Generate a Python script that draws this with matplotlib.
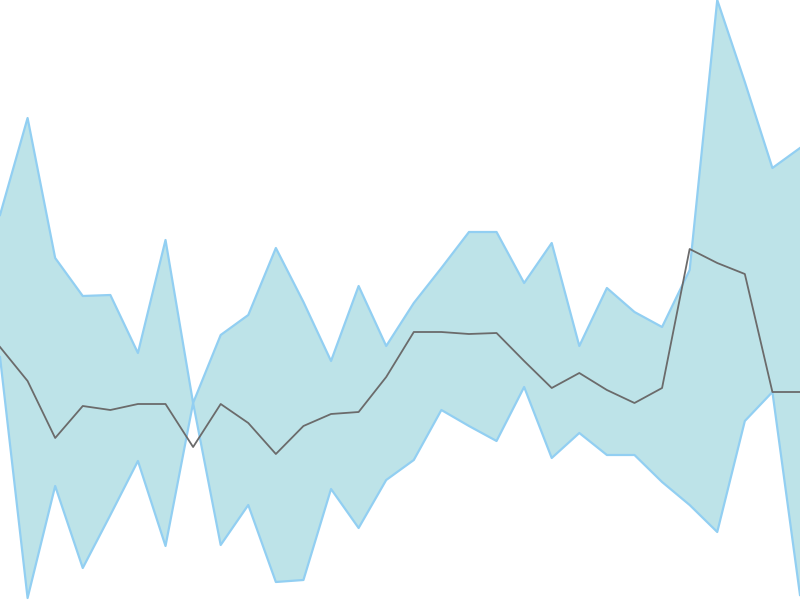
import numpy as np
import matplotlib.pyplot as plt

# --- Data ---
upper = [385, 482, 342, 304, 305, 247, 360, 197, 265, 285, 352, 298, 239, 314, 254,
         297, 332, 368, 368, 317, 357, 254, 312, 288, 273, 330, 600, 518, 432, 452]
lower = [243, 2, 114, 32, 85, 139, 54, 197, 55, 95, 18, 20, 111, 72, 120,
         140, 190, 174, 159, 213, 142, 167, 145, 145, 118, 95, 68, 179, 208, 5]
middle = [253, 219, 162, 194, 190, 196, 196, 153, 196, 177, 146, 174, 186, 188, 223,
          268, 268, 266, 267, 239, 212, 227, 210, 197, 212, 351, 337, 326, 208, 208]

x = np.arange(len(upper))

# --- Plotting ---
fig = plt.figure(figsize=(8, 6), dpi=100)
ax = fig.add_axes([0, 0, 1, 1])

ax.fill_between(x, lower, upper, color='#bde3e8', linewidth=0)
ax.plot(x, upper, color='#92cff2', linewidth=1.6)
ax.plot(x, lower, color='#92cff2', linewidth=1.6)
ax.plot(x, middle, color='#6b6b6b', linewidth=1.3)

ax.set_xlim(0, len(x) - 1)
ax.set_ylim(0, 600)
ax.axis('off')

fig.savefig('out.png', dpi=100)
